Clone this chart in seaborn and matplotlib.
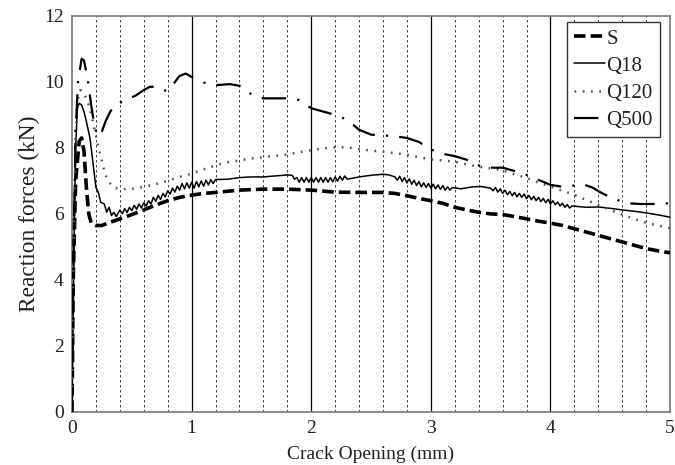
import numpy as np
import pandas as pd
import matplotlib
matplotlib.use("Agg")
import matplotlib.pyplot as plt
import seaborn as sns

# Crack opening (mm) and reaction force (kN) for each specimen
s_x = [0, 0.01, 0.03, 0.06, 0.08, 0.10, 0.12, 0.14, 0.16, 0.20, 0.25, 0.30, 0.40, 0.50,
       0.60, 0.70, 0.80, 0.90, 1.00, 1.10, 1.20, 1.40, 1.60, 1.80, 2.00, 2.20, 2.40,
       2.60, 2.70, 2.80, 2.90, 3.00, 3.10, 3.20, 3.30, 3.40, 3.50, 3.60, 3.70, 3.80,
       3.90, 4.00, 4.10, 4.20, 4.30, 4.40, 4.50, 4.60, 4.70, 4.80, 4.90, 5.00]
s_y = [0, 4.0, 7.0, 8.2, 8.3, 7.9, 6.8, 6.0, 5.72, 5.65, 5.65, 5.72, 5.85, 5.98,
       6.12, 6.27, 6.40, 6.50, 6.57, 6.62, 6.65, 6.72, 6.75, 6.75, 6.72, 6.66, 6.65,
       6.65, 6.62, 6.55, 6.47, 6.40, 6.32, 6.20, 6.12, 6.05, 6.00, 5.98, 5.92, 5.85,
       5.78, 5.72, 5.65, 5.55, 5.45, 5.35, 5.25, 5.15, 5.05, 4.95, 4.88, 4.82]

q18_x = [0, 0.01, 0.02, 0.03, 0.045, 0.06, 0.08, 0.10, 0.12, 0.15, 0.18, 0.20, 0.22,
         0.24, 0.27, 0.29, 0.31, 0.33, 0.35, 0.37, 0.39,
         0.40, 0.42, 0.44, 0.46, 0.48, 0.50, 0.52, 0.54, 0.56, 0.58, 0.60, 0.62, 0.64,
         0.66, 0.68, 0.70, 0.72, 0.74, 0.76, 0.78, 0.80, 0.82, 0.84, 0.86, 0.88, 0.90,
         0.92, 0.94, 0.96, 0.98, 1.00, 1.02, 1.04, 1.06, 1.08, 1.10, 1.12, 1.14, 1.16,
         1.18, 1.20,
         1.30, 1.40, 1.50, 1.60, 1.70, 1.80, 1.84, 1.86,
         1.88, 1.90, 1.92, 1.94, 1.96, 1.98, 2.00, 2.02, 2.04, 2.06, 2.08, 2.10, 2.12,
         2.14, 2.16, 2.18, 2.20, 2.22, 2.24, 2.26, 2.28, 2.30,
         2.40, 2.50, 2.60, 2.65, 2.70,
         2.72, 2.74, 2.76, 2.78, 2.80, 2.82, 2.84, 2.86, 2.88, 2.90, 2.92, 2.94, 2.96,
         2.98, 3.00, 3.02, 3.04, 3.06, 3.08, 3.10, 3.12, 3.14, 3.16, 3.18,
         3.25, 3.35, 3.42, 3.50,
         3.52, 3.54, 3.56, 3.58, 3.60, 3.62, 3.64, 3.66, 3.68, 3.70, 3.72, 3.74, 3.76,
         3.78, 3.80, 3.82, 3.84, 3.86, 3.88, 3.90, 3.92, 3.94, 3.96, 3.98, 4.00, 4.02,
         4.04, 4.06, 4.08, 4.10, 4.12, 4.14, 4.16, 4.18,
         4.30, 4.40, 4.50, 4.60, 4.70, 4.80, 4.90, 5.00]
q18_y = [0, 3.0, 6.0, 8.0, 9.2, 9.35, 9.3, 9.1, 8.8, 8.3, 7.4, 6.8, 6.65,
         6.35, 6.3, 6.05, 6.2, 5.95, 6.05, 5.92, 6.05,
         6.12, 6.00, 6.16, 6.04, 6.20, 6.10, 6.26, 6.14, 6.30, 6.18, 6.34, 6.24, 6.40,
         6.30, 6.50, 6.38, 6.56, 6.44, 6.62, 6.52, 6.70, 6.60, 6.78, 6.66, 6.84, 6.72,
         6.92, 6.76, 6.94, 6.78, 6.96, 6.78, 6.98, 6.82, 7.00, 6.84, 7.02, 6.88, 7.04,
         6.92, 7.04,
         7.05, 7.10, 7.12, 7.12, 7.15, 7.18, 7.17, 7.05,
         7.10, 6.96, 7.10, 6.96, 7.10, 6.96, 7.10, 6.96, 7.10, 6.96, 7.10, 6.96, 7.10,
         6.96, 7.10, 6.97, 7.12, 6.99, 7.14, 7.02, 7.15, 7.05,
         7.12, 7.17, 7.20, 7.18, 7.12,
         7.02, 7.14, 6.98, 7.10, 6.94, 7.06, 6.90, 7.02, 6.86, 6.98, 6.82, 6.94, 6.80,
         6.92, 6.78, 6.90, 6.76, 6.88, 6.74, 6.86, 6.72, 6.82, 6.72, 6.80,
         6.76, 6.82, 6.83, 6.78,
         6.70, 6.80, 6.66, 6.76, 6.62, 6.72, 6.58, 6.68, 6.55, 6.65, 6.52, 6.62, 6.50,
         6.60, 6.46, 6.56, 6.43, 6.53, 6.40, 6.50, 6.37, 6.47, 6.34, 6.44, 6.30, 6.40,
         6.28, 6.36, 6.24, 6.32, 6.20, 6.28, 6.18, 6.24,
         6.20, 6.21, 6.17, 6.12, 6.08, 6.03, 5.97, 5.90]

q120_x = [0, 0.01, 0.03, 0.05, 0.07, 0.09, 0.12, 0.15, 0.18, 0.21, 0.24, 0.27, 0.30,
          0.35, 0.40, 0.50, 0.60, 0.70, 0.80, 0.90, 1.00, 1.10, 1.20, 1.30, 1.40, 1.50,
          1.60, 1.70, 1.80, 1.90, 2.00, 2.10, 2.20, 2.30, 2.40, 2.50, 2.60, 2.70, 2.80,
          2.90, 3.00, 3.10, 3.20, 3.30, 3.40, 3.50, 3.60, 3.70, 3.80, 3.90, 4.00, 4.10,
          4.20, 4.30, 4.40, 4.50, 4.60, 4.70, 4.80, 4.90, 5.00]
q120_y = [0, 4.0, 8.5, 9.5, 9.75, 9.7, 9.5, 9.2, 8.7, 8.2, 7.75, 7.3, 7.0,
          6.8, 6.75, 6.76, 6.82, 6.90, 7.00, 7.12, 7.22, 7.35, 7.47, 7.56, 7.62, 7.68,
          7.72, 7.76, 7.80, 7.87, 7.93, 7.98, 8.02, 8.02, 7.96, 7.92, 7.88, 7.84, 7.79,
          7.72, 7.65, 7.62, 7.58, 7.50, 7.43, 7.38, 7.32, 7.20, 7.09, 6.95, 6.83, 6.70,
          6.58, 6.42, 6.27, 6.12, 5.98, 5.85, 5.73, 5.65, 5.57]

q500_x = [0, 0.01, 0.03, 0.05, 0.08, 0.10, 0.13, 0.16, 0.19, 0.22, 0.24, 0.28, 0.32,
          0.36, 0.45, 0.53, 0.60, 0.65, 0.70, 0.75, 0.79, 0.85, 0.90, 0.95, 1.00, 1.10,
          1.20, 1.32, 1.40, 1.50, 1.60, 1.70, 1.80, 1.90, 2.00, 2.10, 2.20, 2.30, 2.40,
          2.50, 2.60, 2.70, 2.80, 2.90, 3.00, 3.10, 3.20, 3.30, 3.40, 3.50, 3.60, 3.70,
          3.80, 3.90, 4.00, 4.10, 4.20, 4.27, 4.35, 4.41, 4.50, 4.56, 4.65, 4.75, 4.85,
          5.00]
q500_y = [0, 4.0, 8.5, 10.0, 10.7, 10.65, 10.1, 9.3, 8.6, 8.35, 8.4, 8.8, 9.1,
          9.3, 9.45, 9.58, 9.75, 9.85, 9.85, 9.78, 9.72, 9.95, 10.18, 10.25, 10.15, 9.98,
          9.90, 9.93, 9.88, 9.62, 9.50, 9.50, 9.50, 9.45, 9.20, 9.10, 9.00, 8.85, 8.55,
          8.40, 8.38, 8.35, 8.30, 8.18, 7.95, 7.82, 7.75, 7.64, 7.47, 7.40, 7.40, 7.30,
          7.18, 7.03, 6.88, 6.82, 6.86, 6.90, 6.80, 6.67, 6.50, 6.42, 6.32, 6.30, 6.30,
          6.32]

x_ticks = [0, 1, 2, 3, 4, 5]
y_ticks = [0, 2, 4, 6, 8, 10, 12]

sns.set_theme(style="white")
plt.rcParams["font.family"] = ["Liberation Serif", "DejaVu Serif"]

fig = plt.figure(figsize=(6.75, 4.65), dpi=100)
ax = fig.add_axes([0.1067, 0.114, 0.886, 0.852])

# vertical guide lines: solid at whole millimetres, dashed every 0.2 mm
for v in np.arange(0.2, 5.0, 0.2):
    if abs(v - round(v)) < 1e-6:
        ax.axvline(v, color="black", lw=0.9, zorder=0)
    else:
        ax.axvline(v, color="#222222", lw=0.6, ls=(0, (3, 3)), zorder=0)

series = [
    ("S", s_x, s_y, dict(lw=2.6, linestyle=(0, (3.2, 1.4)))),
    ("Q18", q18_x, q18_y, dict(lw=1.1, linestyle="-")),
    ("Q120", q120_x, q120_y, dict(lw=1.8, linestyle=(0, (0.7, 2.6)), color="#555555")),
    ("Q500", q500_x, q500_y, dict(lw=1.6, linestyle=(0, (11, 5, 1, 5)))),
]
for name, xs, ys, kw in series:
    df = pd.DataFrame({"x": xs, "y": ys})
    color = kw.pop("color", "black")
    sns.lineplot(data=df, x="x", y="y", ax=ax, color=color, label=name,
                 estimator=None, sort=False, zorder=3, **kw)

ax.set_xlim(0, 5)
ax.set_ylim(0, 12)
ax.set_xticks(x_ticks)
ax.set_yticks(y_ticks)
ax.tick_params(axis="both", length=0, labelsize=14, pad=6, colors="#222222")
ax.set_xlabel("Crack Opening (mm)", fontsize=14, color="#222222", labelpad=6)
ax.set_ylabel("Reaction forces (kN)", fontsize=16.8, color="#222222", labelpad=3)
for sp in ax.spines.values():
    sp.set_color("#777777")
    sp.set_linewidth(1.2)

leg = ax.legend(loc="upper right", bbox_to_anchor=(0.983, 0.985), fontsize=15,
                frameon=True, fancybox=False, edgecolor="#333333", framealpha=1,
                handlelength=1.5, handletextpad=0.05, labelspacing=0.36,
                borderpad=0.35, borderaxespad=0.0)
leg.get_frame().set_linewidth(1.0)
for t in leg.get_texts():
    t.set_color("#222222")

fig.savefig("out.png", dpi=100)
